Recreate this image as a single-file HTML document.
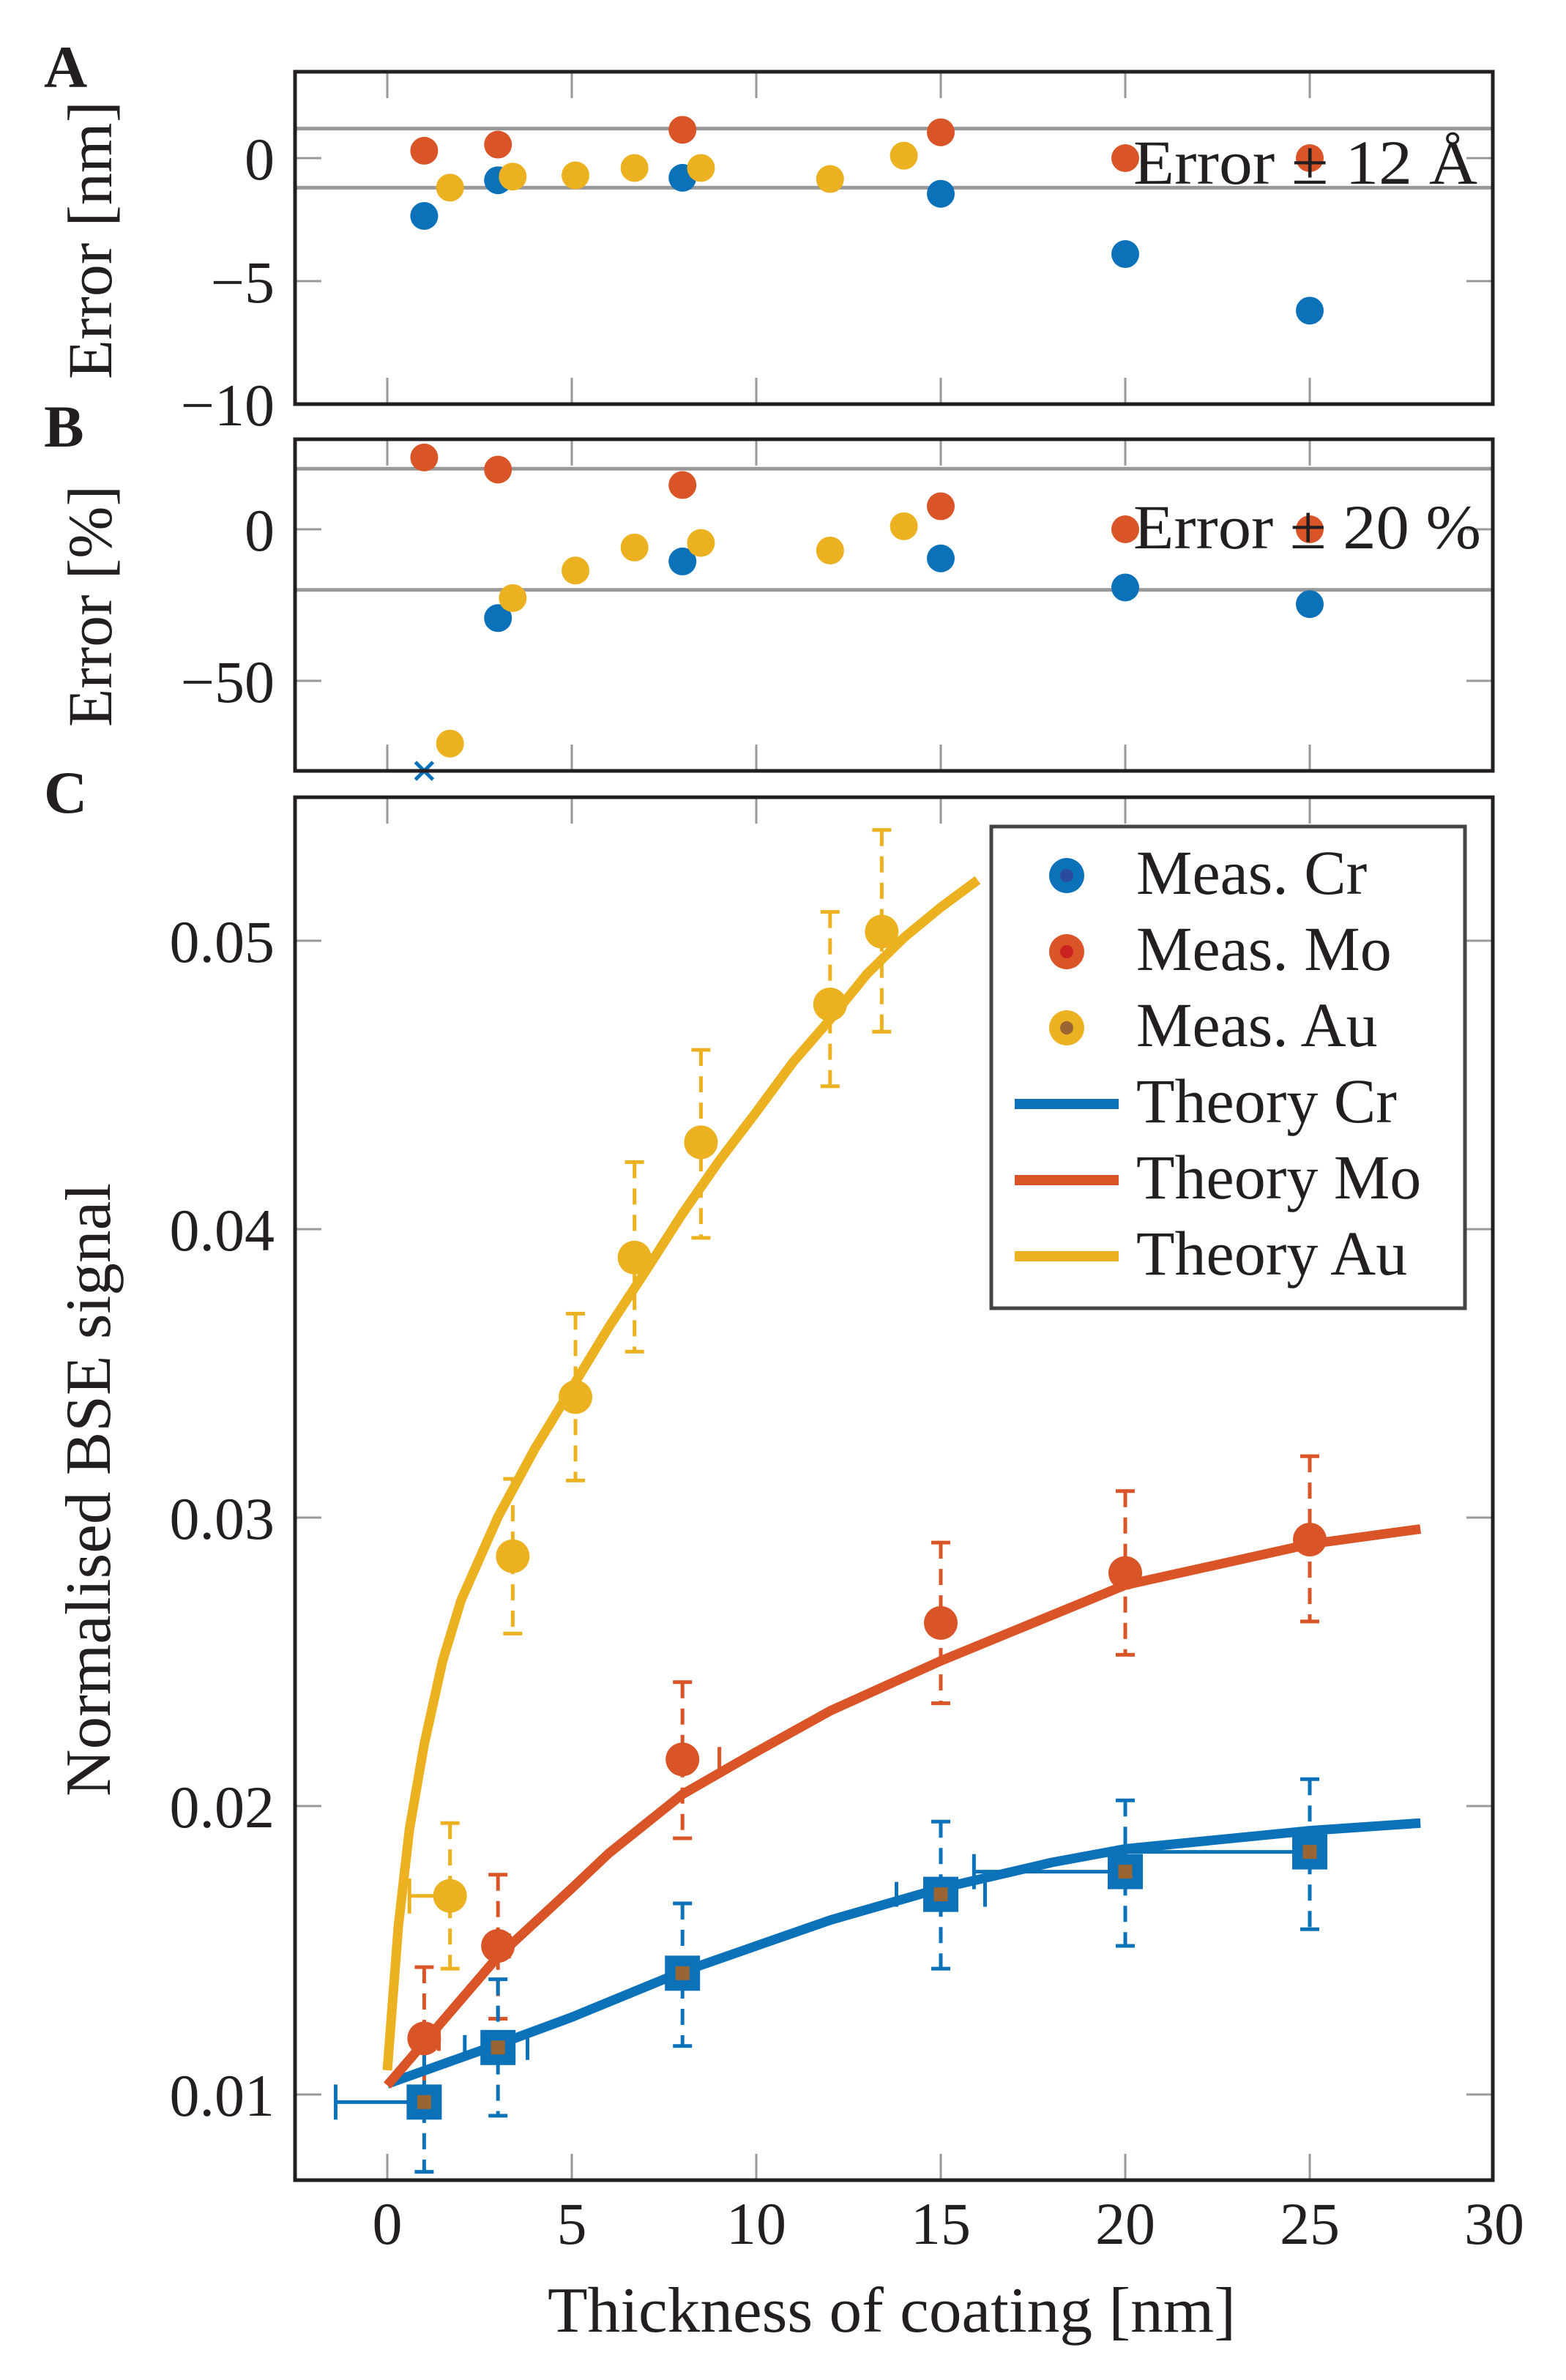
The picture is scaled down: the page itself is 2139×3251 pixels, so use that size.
<!DOCTYPE html>
<html><head><meta charset="utf-8"><style>
html,body{margin:0;padding:0;background:#fff}
svg{display:block}
text{font-family:"Liberation Serif",serif;fill:#231f20}
</style></head><body>
<svg id="s" xmlns="http://www.w3.org/2000/svg" width="2139" height="3251" viewBox="0 0 2139 3251"></svg>
<script>
const s=document.getElementById('s');let h='';
const B='#0b72b9',O='#d95427',Y='#ecb120',BR='#996633',K='#231f20',G='#999';
const X=x=>529+50.4*x;
const yA=v=>216-33.6*v, yB=v=>723-4.14*v, yC=py=>2861+(py-1381)*2.071;
function box(t,b){
 h+=`<rect x="403" y="${t}" width="1636" height="${b-t}" fill="none" stroke="${K}" stroke-width="5"/>`;
}
function xt(t,b){for(let v=0;v<=25;v+=5){h+=`<line x1="${X(v)}" y1="${t}" x2="${X(v)}" y2="${t+36}" stroke="${G}" stroke-width="3"/><line x1="${X(v)}" y1="${b}" x2="${X(v)}" y2="${b-36}" stroke="${G}" stroke-width="3"/>`;}}
function yt(y,lab){h+=`<line x1="403" y1="${y}" x2="439" y2="${y}" stroke="${G}" stroke-width="3"/><line x1="2039" y1="${y}" x2="2003" y2="${y}" stroke="${G}" stroke-width="3"/><text x="375" y="${y+29}" font-size="82" text-anchor="end">${lab}</text>`;}
function dot(x,y,c,r=19){h+=`<circle cx="${x}" cy="${y}" r="${r}" fill="${c}"/>`;}
// Panel A
h+=`<line x1="403" y1="${yA(1.2)}" x2="2039" y2="${yA(1.2)}" stroke="${G}" stroke-width="5"/><line x1="403" y1="${yA(-1.2)}" x2="2039" y2="${yA(-1.2)}" stroke="${G}" stroke-width="5"/>`;
xt(98,552);yt(yA(0),'0');yt(yA(-5),'−5');yt(yA(-10),'−10');
[[1,-2.35],[3,-0.9],[8,-0.8],[15,-1.45],[20,-3.9],[25,-6.2]].forEach(p=>dot(X(p[0]),yA(p[1]),B));
[[1,0.3],[3,0.55],[8,1.15],[15,1.05],[20,0],[25,0]].forEach(p=>dot(X(p[0]),yA(p[1]),O));
[[1.7,-1.2],[3.4,-0.75],[5.1,-0.7],[6.7,-0.4],[8.5,-0.4],[12,-0.85],[14,0.1]].forEach(p=>dot(X(p[0]),yA(p[1]),Y));
h+=`<text x="1548" y="251" font-size="86" textLength="470" lengthAdjust="spacingAndGlyphs">Error ± 12 Å</text>`;
box(98,552);
h+=`<text x="60" y="119" font-size="82" font-weight="bold">A</text>`;
h+=`<text transform="translate(152,328) rotate(-90)" font-size="86" text-anchor="middle" textLength="380" lengthAdjust="spacingAndGlyphs">Error [nm]</text>`;
// Panel B
h+=`<line x1="403" y1="${yB(20)}" x2="2039" y2="${yB(20)}" stroke="${G}" stroke-width="5"/><line x1="403" y1="${yB(-20)}" x2="2039" y2="${yB(-20)}" stroke="${G}" stroke-width="5"/>`;
xt(600,1053);yt(yB(0),'0');yt(yB(-50),'−50');
[[3,-29.3],[8,-10.6],[15,-9.6],[20,-19.2],[25,-24.7]].forEach(p=>dot(X(p[0]),yB(p[1]),B));
[[1,23.7],[3,19.7],[8,14.6],[15,7.6],[20,0],[25,0]].forEach(p=>dot(X(p[0]),yB(p[1]),O));
[[1.7,-70.7],[3.4,-22.7],[5.1,-13.6],[6.7,-6],[8.5,-4.5],[12,-7],[14,1]].forEach(p=>dot(X(p[0]),yB(p[1]),Y));
h+=`<path d="M${X(1)-12} 1041 l24 24 M${X(1)+12} 1041 l-24 24" stroke="${B}" stroke-width="5"/>`;
h+=`<text x="1548" y="749" font-size="86" textLength="475" lengthAdjust="spacingAndGlyphs">Error ± 20 %</text>`;
box(600,1053);
h+=`<text x="60" y="610" font-size="82" font-weight="bold">B</text>`;
h+=`<text transform="translate(152,828) rotate(-90)" font-size="86" text-anchor="middle" textLength="330" lengthAdjust="spacingAndGlyphs">Error [%]</text>`;
// Panel C
xt(1089,2978);
[[0.01,2861],[0.02,2467],[0.03,2073],[0.04,1679],[0.05,1285]].forEach(t=>yt(t[1],t[0].toFixed(2)));
for(let v=0;v<=30;v+=5)h+=`<text x="${X(v)}" y="3065" font-size="82" text-anchor="middle">${v}</text>`;
h+=`<text x="1218" y="3185" font-size="88" text-anchor="middle" textLength="940" lengthAdjust="spacingAndGlyphs">Thickness of coating [nm]</text>`;
h+=`<text transform="translate(150,2035) rotate(-90)" font-size="88" text-anchor="middle" textLength="838" lengthAdjust="spacingAndGlyphs">Normalised BSE signal</text>`;
h+=`<text x="60" y="1110" font-size="82" font-weight="bold">C</text>`;
function eb(x,t,b,c){const xx=X(x);h+=`<line x1="${xx}" y1="${yC(t)}" x2="${xx}" y2="${yC(b)}" stroke="${c}" stroke-width="5" stroke-dasharray="22 14"/><line x1="${xx-13}" y1="${yC(t)}" x2="${xx+13}" y2="${yC(t)}" stroke="${c}" stroke-width="5"/><line x1="${xx-13}" y1="${yC(b)}" x2="${xx+13}" y2="${yC(b)}" stroke="${c}" stroke-width="5"/>`;}
function hb(x1,x2,py,c){h+=`<line x1="${X(x1)}" y1="${yC(py)}" x2="${X(x2)}" y2="${yC(py)}" stroke="${c}" stroke-width="5"/><line x1="${X(x1)}" y1="${yC(py)-24}" x2="${X(x1)}" y2="${yC(py)+24}" stroke="${c}" stroke-width="5"/><line x1="${X(x2)}" y1="${yC(py)-24}" x2="${X(x2)}" y2="${yC(py)+24}" stroke="${c}" stroke-width="5"/>`;}
function tk(x,py,c){h+=`<line x1="${X(x)}" y1="${yC(py)-17}" x2="${X(x)}" y2="${yC(py)+17}" stroke="${c}" stroke-width="5"/>`;}
const au=[[1.7,1250,1202,1298],[3.4,1026,975,1077],[5.1,921,866,976],[6.7,829,766,891],[8.5,753,692,816],[12,662,601,716],[13.4,614,547,680]];
const mo=[[1,1344,1297,1395],[3,1283,1236,1331],[8,1160,1109,1212],[15,1070,1017,1123],[20,1037,983,1091],[25,1015,960,1069]];
const cr=[[1,1386,1337,1432],[3,1350,1305,1395],[8,1301,1255,1349],[15,1249,1201,1298],[20,1234,1187,1283],[25,1221,1173,1272]];
au.forEach(p=>eb(p[0],p[2],p[3],Y));mo.forEach(p=>eb(p[0],p[2],p[3],O));cr.forEach(p=>eb(p[0],p[2],p[3],B));
hb(0.6,1.7,1250,Y);hb(-1.4,1,1386,B);hb(15.9,20,1234,B);hb(20,25,1221,B);
tk(9,1160,O);tk(13.8,1249,B);tk(16.2,1249,B);tk(2.1,1350,B);tk(3.8,1350,B);tk(1.4,1344,O);tk(3.3,1283,O);
function curve(pts,c){h+=`<polyline fill="none" stroke="${c}" stroke-width="13" stroke-linejoin="round" points="${pts.map(p=>X(p[0])+','+yC(p[1])).join(' ')}"/>`;}
curve([[0,1374],[3,1348],[5,1330],[8,1300],[10,1283],[12,1266],[15,1245],[18,1228],[20,1219],[25,1207],[28,1202]],B);
curve([[0,1375],[3,1290],[5,1245],[6,1222],[8,1183],[10,1155],[12,1128],[15,1095],[18,1065],[20,1045],[25,1018],[28,1008]],O);
curve([[0,1365],[0.3,1270],[0.6,1206],[1,1150],[1.5,1095],[2,1055],[3,1000],[4,955],[5,915],[6,875],[7,838],[8,800],[9,765],[10,733],[11,700],[12,672],[13,642],[14,618],[15,598],[16,580]],Y);
au.forEach(p=>dot(X(p[0]),yC(p[1]),Y,23));mo.forEach(p=>dot(X(p[0]),yC(p[1]),O,23));
cr.forEach(p=>{const x=X(p[0]),y=yC(p[1]);h+=`<rect x="${x-24}" y="${y-24}" width="48" height="48" fill="${B}"/><rect x="${x-9.5}" y="${y-9.5}" width="19" height="19" fill="${BR}"/>`;});
box(1089,2978);
// legend
h+=`<rect x="1354" y="1129" width="647" height="658" fill="#fff" stroke="#444" stroke-width="5"/>`;
[['Meas. Cr',B,'#2a4a9e'],['Meas. Mo',O,'#cc2222'],['Meas. Au',Y,BR]].forEach((r,i)=>{const y=1196+104*i;h+=`<circle cx="1457" cy="${y}" r="24" fill="${r[1]}"/><circle cx="1457" cy="${y}" r="9" fill="${r[2]}"/><text x="1552" y="${y+25}" font-size="86">${r[0]}</text>`;});
[['Theory Cr',B],['Theory Mo',O],['Theory Au',Y]].forEach((r,i)=>{const y=1508+104*i;h+=`<line x1="1386" y1="${y}" x2="1528" y2="${y}" stroke="${r[1]}" stroke-width="14"/><text x="1552" y="${y+25}" font-size="86">${r[0]}</text>`;});
s.innerHTML=h;
</script>
</body></html>
